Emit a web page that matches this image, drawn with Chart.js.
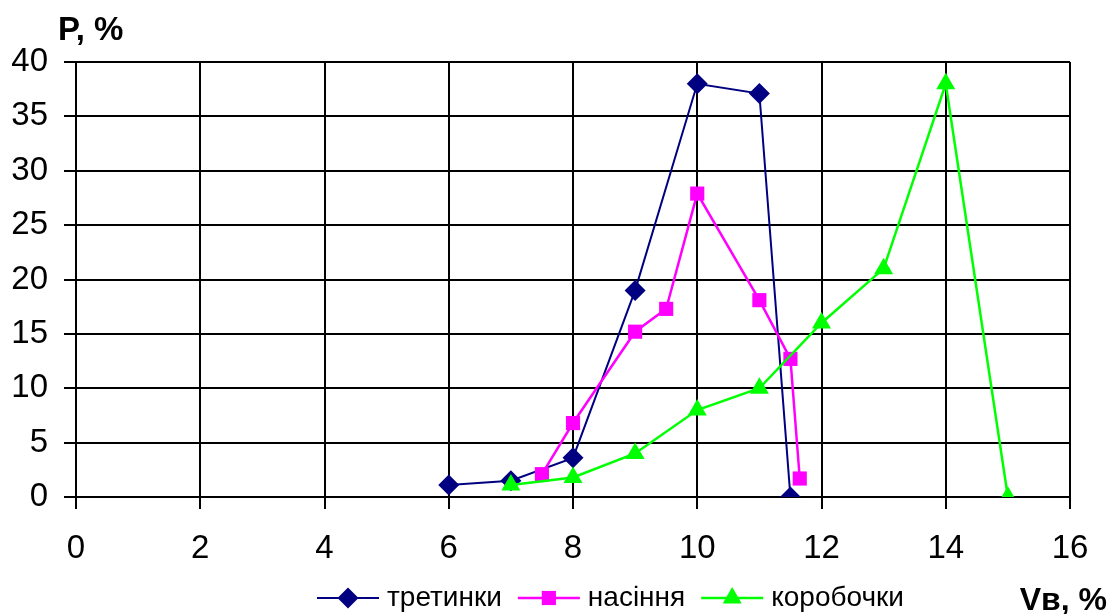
<!DOCTYPE html>
<html>
<head>
<meta charset="utf-8">
<script src="https://cdn.jsdelivr.net/npm/chart.js@4.4.0/dist/chart.umd.min.js"></script>
<style>
  html, body { margin: 0; padding: 0; background: #fff; }
  canvas { display: block; }
</style>
</head>
<body>
<canvas id="chart" width="1109" height="614"></canvas>
<script>
// axis titles
const yTitle = "P, %";
const xTitle = "Vв, %";

// series
const seriesNames = ["третинки", "насіння", "коробочки"];

const tretynkyX = [6, 7, 8, 9, 10, 11, 11.5];
const tretynkyY = [1.1, 1.5, 3.6, 19.0, 38.0, 37.1, 0];

const nasinniaX = [7.5, 8, 9, 9.5, 10, 11, 11.5, 11.65];
const nasinniaY = [2.1, 6.8, 15.2, 17.3, 27.9, 18.1, 12.7, 1.7];

const korobochkyX = [7, 8, 9, 10, 11, 12, 13, 14, 15];
const korobochkyY = [1.1, 1.8, 4.0, 8.0, 10.0, 16.0, 21.0, 38.0, 0];

// axis ranges
const xMin = 0, xMax = 16, xStep = 2;
const yMin = 0, yMax = 40, yStep = 5;

const FONT = '"Liberation Sans", Arial, sans-serif';

function toPoints(xs, ys) {
  return xs.map((x, i) => ({ x: x, y: ys[i] }));
}

const datasets = [
  {
    label: seriesNames[0],
    data: toPoints(tretynkyX, tretynkyY),
    borderColor: "#000080",
    backgroundColor: "#000080",
    borderWidth: 2,
    pointStyle: "rectRot",
    pointRadius: 10.5,
    pointBorderWidth: 0,
    order: 2,
  },
  {
    label: seriesNames[1],
    data: toPoints(nasinniaX, nasinniaY),
    borderColor: "#ff00ff",
    backgroundColor: "#ff00ff",
    borderWidth: 2.5,
    pointStyle: "rect",
    pointRadius: 10,
    pointBorderWidth: 0,
    order: 1,
  },
  {
    label: seriesNames[2],
    data: toPoints(korobochkyX, korobochkyY),
    borderColor: "#00ff00",
    backgroundColor: "#00ff00",
    borderWidth: 2.5,
    pointStyle: "triangle",
    pointRadius: 11,
    pointBorderWidth: 0,
    order: 0,
  },
];

// titles and the legend row (line + marker + text) are drawn here
const extrasPlugin = {
  id: "extras",
  afterDraw(chart) {
    const ctx = chart.ctx;
    ctx.save();
    ctx.fillStyle = "#000";
    ctx.textBaseline = "alphabetic";
    ctx.font = "bold 33px " + FONT;
    ctx.textAlign = "left";
    ctx.fillText(yTitle, 58, 40);
    ctx.font = "bold 32px " + FONT;
    ctx.textAlign = "right";
    ctx.fillText(xTitle, 1107, 610);

    // legend
    ctx.font = "28px " + FONT;
    ctx.textAlign = "left";
    let x = 317;
    const lineY = 598;
    datasets.forEach((ds) => {
      ctx.strokeStyle = ds.borderColor;
      ctx.lineWidth = ds.borderWidth;
      ctx.beginPath();
      ctx.moveTo(x, lineY);
      ctx.lineTo(x + 62, lineY);
      ctx.stroke();
      ctx.fillStyle = ds.backgroundColor;
      Chart.helpers.drawPoint(ctx, {
        pointStyle: ds.pointStyle,
        radius: ds.pointRadius,
        rotation: 0,
        borderWidth: 0,
      }, x + 31, lineY);
      ctx.fillStyle = "#000";
      ctx.fillText(ds.label, x + 70, 606);
      x += 70 + ctx.measureText(ds.label).width + 16;
    });
    ctx.restore();
  },
};

new Chart(document.getElementById("chart"), {
  type: "scatter",
  data: { datasets: datasets.map((d) => Object.assign({ showLine: true, tension: 0 }, d)) },
  options: {
    responsive: false,
    animation: false,
    layout: { padding: { left: 0, right: 39, top: 62, bottom: 49 } },
    plugins: {
      legend: { display: false },
      tooltip: { enabled: false },
    },
    scales: {
      x: {
        type: "linear",
        min: xMin,
        max: xMax,
        afterFit: (s) => { s.height = 68; },
        ticks: {
          stepSize: xStep,
          color: "#000",
          padding: 20,
          maxRotation: 0,
          font: { family: FONT, size: 33 },
        },
        grid: { color: "#000", lineWidth: 2, tickLength: 12, tickColor: "#000", tickWidth: 2 },
        border: { color: "#000", width: 2 },
      },
      y: {
        type: "linear",
        min: yMin,
        max: yMax,
        afterFit: (s) => { s.width = 76; },
        ticks: {
          stepSize: yStep,
          color: "#000",
          padding: 16,
          font: { family: FONT, size: 33 },
        },
        grid: { color: "#000", lineWidth: 2, tickLength: 12, tickColor: "#000", tickWidth: 2 },
        border: { color: "#000", width: 2 },
      },
    },
  },
  plugins: [extrasPlugin],
});
</script>
</body>
</html>
